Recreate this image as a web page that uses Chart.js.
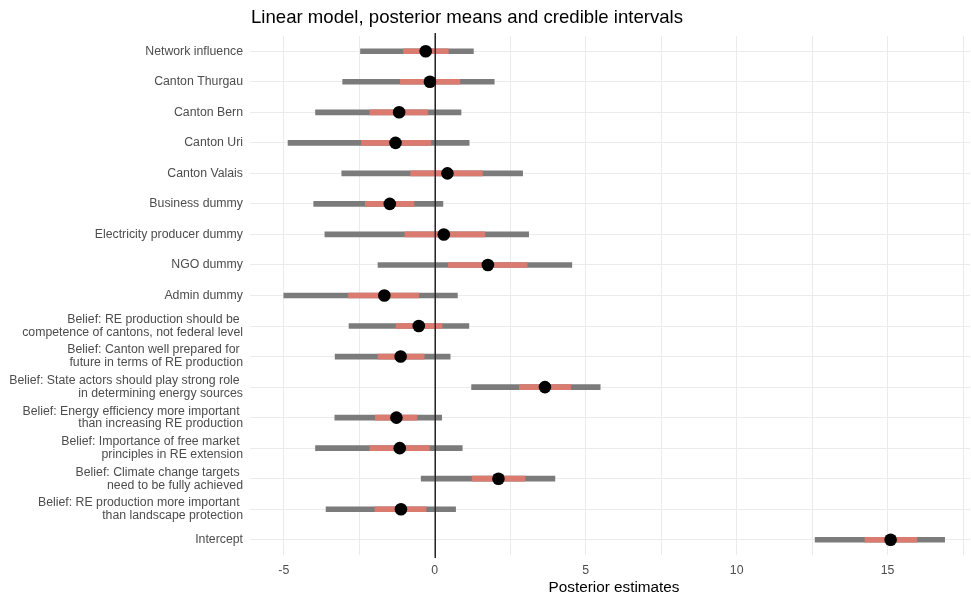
<!DOCTYPE html>
<html>
<head>
<meta charset="utf-8">
<title>Posterior means and credible intervals</title>
<script src="https://cdn.jsdelivr.net/npm/chart.js@4.4.1/dist/chart.umd.min.js"></script>
<style>
  html, body { margin: 0; padding: 0; background: #fff; }
  #wrap { width: 971px; height: 596px; }
</style>
</head>
<body>
<div id="wrap"><canvas id="chart" width="971" height="596"></canvas></div>
<script>
// coefficient names, top to bottom
const labels = [
  'Network influence',
  'Canton Thurgau',
  'Canton Bern',
  'Canton Uri',
  'Canton Valais',
  'Business dummy',
  'Electricity producer dummy',
  'NGO dummy',
  'Admin dummy',
  ['Belief: RE production should be ', 'competence of cantons, not federal level'],
  ['Belief: Canton well prepared for ', 'future in terms of RE production'],
  ['Belief: State actors should play strong role ', 'in determining energy sources'],
  ['Belief: Energy efficiency more important ', 'than increasing RE production'],
  ['Belief: Importance of free market ', 'principles in RE extension'],
  ['Belief: Climate change targets ', 'need to be fully achieved'],
  ['Belief: RE production more important ', 'than landscape protection'],
  'Intercept'
];

// outer interval (grey)
const lower95 = [-2.46, -3.05, -3.95, -4.86, -3.08, -4.01, -3.64, -1.88, -5.00, -2.84, -3.30, 1.22, -3.31, -3.95, -0.45, -3.60, 12.60];
const upper95 = [1.28, 1.97, 0.87, 1.14, 2.91, 0.27, 3.11, 4.54, 0.75, 1.13, 0.51, 5.48, 0.23, 0.91, 3.98, 0.69, 16.89];
// inner interval (red)
const lower50 = [-1.04, -1.14, -2.15, -2.43, -0.80, -2.30, -0.99, 0.45, -2.86, -1.28, -1.88, 2.80, -1.97, -2.15, 1.24, -1.98, 14.25];
const upper50 = [0.45, 0.83, -0.23, -0.13, 1.58, -0.69, 1.66, 3.06, -0.53, 0.24, -0.35, 4.50, -0.59, -0.18, 2.99, -0.29, 15.97];
// posterior means
const means = [-0.30, -0.16, -1.18, -1.30, 0.42, -1.49, 0.30, 1.76, -1.67, -0.53, -1.13, 3.65, -1.27, -1.16, 2.11, -1.12, 15.10];

const FONT = 'Liberation Sans, Arial, sans-serif';

// ggplot-style titles, left aligned to the panel
const titles = {
  id: 'titles',
  afterDraw(chart) {
    const { ctx, chartArea } = chart;
    ctx.save();
    ctx.fillStyle = '#000';
    ctx.font = '18.6px ' + FONT;
    ctx.textAlign = 'left';
    ctx.textBaseline = 'alphabetic';
    ctx.fillText('Linear model, posterior means and credible intervals', chartArea.left + 1, 23);
    ctx.font = '15.3px ' + FONT;
    ctx.textAlign = 'center';
    ctx.fillText('Posterior estimates', 614, 592);
    ctx.restore();
  }
};

// vertical line at 0: over the interval bars, under the dots
const zeroLine = {
  id: 'zeroLine',
  afterDatasetDraw(chart, args) {
    if (args.index !== 1) return;
    const { ctx, chartArea } = chart;
    const x = Math.round(chart.scales.x.getPixelForValue(0)) + 0.25;
    ctx.save();
    ctx.strokeStyle = '#262626';
    ctx.lineWidth = 1.5;
    ctx.beginPath();
    ctx.moveTo(x, chartArea.top - 3);
    ctx.lineTo(x, chartArea.bottom + 3);
    ctx.stroke();
    ctx.restore();
  }
};

new Chart(document.getElementById('chart'), {
  type: 'bar',
  data: {
    labels: labels,
    datasets: [
      {
        type: 'line',
        data: means,
        showLine: false,
        pointRadius: 6.3,
        pointHoverRadius: 6.3,
        pointBackgroundColor: '#000',
        pointBorderWidth: 0,
        order: 0
      },
      {
        data: lower50.map((v, i) => [v, upper50[i]]),
        backgroundColor: '#db7a6f',
        barThickness: 5,
        grouped: false,
        order: 1
      },
      {
        data: lower95.map((v, i) => [v, upper95[i]]),
        backgroundColor: '#7b7b7b',
        barThickness: 5,
        grouped: false,
        order: 2
      }
    ]
  },
  options: {
    indexAxis: 'y',
    responsive: false,
    animation: false,
    // no extra room for the dots, the panel keeps a fixed size
    layout: { autoPadding: false, padding: { top: 36, right: 1, bottom: 0, left: 0 } },
    plugins: {
      legend: { display: false },
      tooltip: { enabled: false }
    },
    scales: {
      x: {
        min: -6.12,
        max: 17.73,
        border: { display: false },
        grid: { drawTicks: false, color: '#ebebeb' },
        ticks: {
          stepSize: 2.5,
          includeBounds: false,
          autoSkip: false,
          maxRotation: 0,
          padding: 8,
          color: '#4d4d4d',
          font: { family: FONT, size: 12.3 },
          callback: (v) => (v % 5 === 0 ? String(v) : '')
        },
        afterFit: (s) => {
          s.height = 41;
          s.paddingLeft = 0;
          s.paddingRight = 0;
        }
      },
      y: {
        offset: true,
        border: { display: false },
        grid: { offset: false, drawTicks: false, color: '#ebebeb' },
        ticks: {
          padding: 7,
          color: '#4d4d4d',
          font: { family: FONT, size: 12.3, lineHeight: 1.05 }
        },
        afterFit: (s) => { s.width = 250; }
      }
    }
  },
  plugins: [titles, zeroLine]
});
</script>
</body>
</html>
